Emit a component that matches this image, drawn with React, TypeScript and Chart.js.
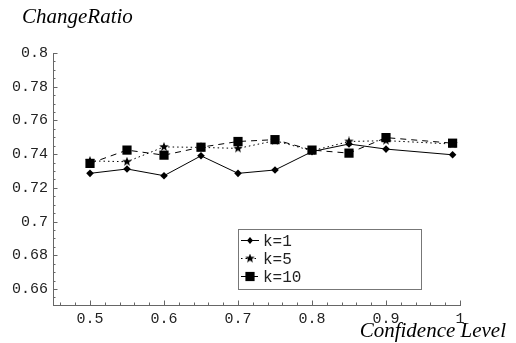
import React, { useEffect, useRef } from 'react';
import { Chart, registerables } from 'chart.js';

Chart.register(...registerables);

const confidenceLevels = [0.5, 0.55, 0.6, 0.65, 0.7, 0.75, 0.8, 0.85, 0.9, 0.99];
const k1Values = [0.7286, 0.7312, 0.7272, 0.739, 0.7286, 0.7306, 0.7415, 0.746, 0.743, 0.7396];
const k5Values = [0.736, 0.7355, 0.7443, 0.744, 0.7434, 0.748, 0.742, 0.7475, 0.748, 0.746];
const k10Values = [0.7345, 0.7424, 0.7394, 0.7441, 0.7475, 0.7486, 0.7424, 0.7406, 0.7498, 0.7465];
const seriesLabels = ['k=1', 'k=5', 'k=10'];
const xTickValues = [0.5, 0.6, 0.7, 0.8, 0.9, 1];
const yTickValues = [0.66, 0.68, 0.7, 0.72, 0.74, 0.76, 0.78, 0.8];
const yAxisTitle = 'ChangeRatio';
const xAxisTitle = 'Confidence Level';

function makeStar(size: number): HTMLCanvasElement {
  const c = document.createElement('canvas');
  c.width = size;
  c.height = size;
  const ctx = c.getContext('2d')!;
  const cx = size / 2, cy = size / 2;
  const ro = size / 2, ri = ro * 0.42;
  ctx.beginPath();
  for (let i = 0; i < 10; i++) {
    const r = i % 2 === 0 ? ro : ri;
    const a = -Math.PI / 2 + (i * Math.PI) / 5;
    const px = cx + r * Math.cos(a), py = cy + r * Math.sin(a);
    if (i === 0) ctx.moveTo(px, py); else ctx.lineTo(px, py);
  }
  ctx.closePath();
  ctx.fillStyle = '#000';
  ctx.fill();
  return c;
}

const toPoints = (vals: number[]) => vals.map((v, i) => ({ x: confidenceLevels[i], y: v }));

export default function App() {
  const ref = useRef<HTMLCanvasElement>(null);
  useEffect(() => {
    document.body.style.margin = '0';
    const star = makeStar(10);
    const dashes: number[][] = [[], [1.5, 3], [6, 5]];

    const drawMarker = (ctx: CanvasRenderingContext2D, kind: number, x: number, y: number) => {
      ctx.save();
      ctx.fillStyle = '#000';
      ctx.beginPath();
      if (kind === 0) {
        ctx.moveTo(x, y - 3.5); ctx.lineTo(x + 3, y); ctx.lineTo(x, y + 3.5); ctx.lineTo(x - 3, y); ctx.closePath();
        ctx.fill();
      } else if (kind === 1) {
        ctx.drawImage(star, x - 5, y - 5);
      } else {
        ctx.rect(x - 4.6, y - 4.6, 9.2, 9.2);
        ctx.fill();
      }
      ctx.restore();
    };

    const decor = {
      id: 'decor',
      afterDraw(chart: any) {
        const ctx: CanvasRenderingContext2D = chart.ctx;
        const xs = chart.scales.x, ys = chart.scales.y;
        const left = chart.chartArea.left, bottom = chart.chartArea.bottom;
        ctx.save();
        ctx.strokeStyle = '#666';
        ctx.lineWidth = 1;
        ctx.beginPath();
        for (let i = 131; i <= 160; i++) {
          const v = i / 200;
          const major = i % 4 === 0;
          const py = Math.round(ys.getPixelForValue(v)) + 0.5;
          ctx.moveTo(left, py);
          ctx.lineTo(left + (major ? 4.5 : 2.5), py);
        }
        for (let i = 23; i <= 50; i++) {
          const v = i / 50;
          const major = i % 5 === 0;
          const px = Math.round(xs.getPixelForValue(v)) + 0.5;
          ctx.moveTo(px, bottom);
          ctx.lineTo(px, bottom - (major ? 4.5 : 2.5));
        }
        ctx.stroke();

        // titles
        ctx.fillStyle = '#000';
        ctx.font = 'italic 21px "Liberation Serif", serif';
        ctx.textBaseline = 'alphabetic';
        ctx.textAlign = 'left';
        ctx.fillText(yAxisTitle, 22, 23);
        ctx.textAlign = 'right';
        ctx.fillText(xAxisTitle, 506, 337);

        // legend
        const bx = 238.5, by = 229.5, bw = 183, bh = 60;
        ctx.fillStyle = '#fff';
        ctx.fillRect(bx, by, bw, bh);
        ctx.strokeStyle = '#777';
        ctx.strokeRect(bx, by, bw, bh);
        const rows = [240.5, 258.5, 276.5];
        ctx.font = '16px "Liberation Mono", monospace';
        ctx.textAlign = 'left';
        ctx.textBaseline = 'middle';
        seriesLabels.forEach((lab, k) => {
          const ry = rows[k];
          ctx.save();
          ctx.strokeStyle = '#000';
          ctx.lineWidth = 1;
          ctx.setLineDash(dashes[k]);
          ctx.beginPath();
          ctx.moveTo(241, ry);
          ctx.lineTo(259, ry);
          ctx.stroke();
          ctx.restore();
          drawMarker(ctx, k, 250, ry);
          ctx.fillStyle = '#222';
          ctx.fillText(lab, 263, ry + 1);
        });
        ctx.restore();
      },
    };

    const chart = new Chart(ref.current!, {
      type: 'line',
      data: {
        datasets: [
          {
            label: seriesLabels[0],
            data: toPoints(k1Values),
            borderColor: '#000',
            borderWidth: 1,
            pointStyle: 'rectRot',
            pointRadius: 3.8,
            pointBackgroundColor: '#000',
            pointBorderWidth: 0,
            order: 2,
          },
          {
            label: seriesLabels[1],
            data: toPoints(k5Values),
            borderColor: '#000',
            borderWidth: 1,
            borderDash: dashes[1],
            pointStyle: star,
            pointRadius: 5,
            pointBackgroundColor: '#000',
            pointBorderWidth: 0,
            order: 1,
          },
          {
            label: seriesLabels[2],
            data: toPoints(k10Values),
            borderColor: '#000',
            borderWidth: 1,
            borderDash: dashes[2],
            pointStyle: 'rect',
            pointRadius: 6.5,
            pointBackgroundColor: '#000',
            pointBorderWidth: 0,
            order: 0,
          },
        ],
      },
      options: {
        responsive: false,
        animation: false,
        events: [],
        layout: { padding: { left: 0, right: 56, top: 53, bottom: 0 } },
        plugins: { legend: { display: false }, tooltip: { enabled: false } },
        scales: {
          x: {
            type: 'linear',
            min: 0.45,
            max: 1.0,
            grid: { display: false, drawTicks: false },
            border: { display: true, color: '#666', width: 1 },
            afterBuildTicks: (s: any) => { s.ticks = xTickValues.map((v) => ({ value: v })); },
            afterFit: (s: any) => { s.height = 38; },
            ticks: {
              padding: 5,
              color: '#222',
              font: { family: '"Liberation Mono", monospace', size: 15 },
              callback: (v: any) => String(+Number(v).toFixed(2)),
              maxRotation: 0,
              autoSkip: false,
            },
          },
          y: {
            type: 'linear',
            min: 0.6505,
            max: 0.8,
            grid: { display: false, drawTicks: false },
            border: { display: true, color: '#666', width: 1 },
            afterBuildTicks: (s: any) => { s.ticks = yTickValues.map((v) => ({ value: v })); },
            afterFit: (s: any) => { s.width = 53; },
            ticks: {
              padding: 5,
              color: '#222',
              font: { family: '"Liberation Mono", monospace', size: 15 },
              callback: (v: any) => String(+Number(v).toFixed(2)),
              autoSkip: false,
            },
          },
        },
      },
      plugins: [decor],
    });
    return () => chart.destroy();
  }, []);
  return (
    <div style={{ width: 516, height: 343 }}>
      <canvas ref={ref} width={516} height={343} />
    </div>
  );
}
